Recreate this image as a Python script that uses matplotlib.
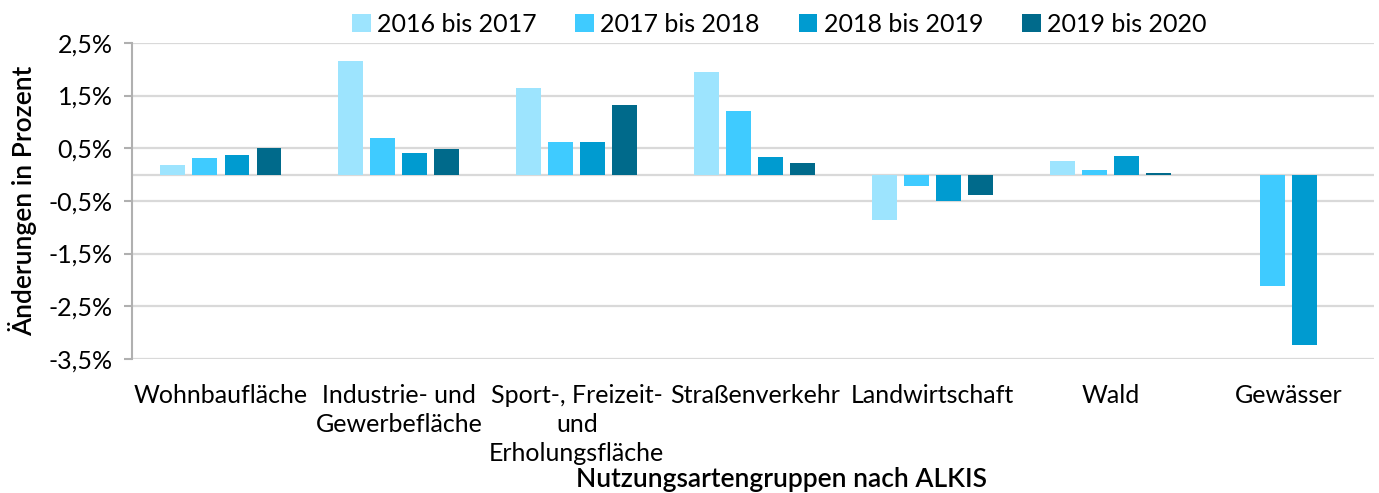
import numpy as np
import matplotlib.pyplot as plt

plt.rcParams['font.family'] = ['Lato', 'DejaVu Sans']

# Daten
kategorien = ['Wohnbaufläche', 'Industrie- und\nGewerbefläche', 'Sport-, Freizeit-\nund\nErholungsfläche',
              'Straßenverkehr', 'Landwirtschaft', 'Wald', 'Gewässer']
zeitraeume = ['2016 bis 2017', '2017 bis 2018', '2018 bis 2019', '2019 bis 2020']
w_2016_2017 = [0.19, 2.15, 1.64, 1.94, -0.87, 0.26, np.nan]
w_2017_2018 = [0.32, 0.70, 0.62, 1.20, -0.22, 0.09, -2.11]
w_2018_2019 = [0.37, 0.41, 0.62, 0.34, -0.51, 0.35, -3.24]
w_2019_2020 = [0.51, 0.48, 1.32, 0.22, -0.39, 0.03, np.nan]
yticks = [2.5, 1.5, 0.5, -0.5, -1.5, -2.5, -3.5]

farben = ['#9de4fe', '#3fcbff', '#009bd0', '#006a8b']
reihen = [w_2016_2017, w_2017_2018, w_2018_2019, w_2019_2020]

fig = plt.figure(figsize=(13.79, 4.93), dpi=100)
ax = fig.add_axes([0.0957, 0.272, 0.9007, 0.641])

x = np.arange(len(kategorien))
abstand = 0.18
breite = 0.14
for i, (werte, farbe, name) in enumerate(zip(reihen, farben, zeitraeume)):
    ax.bar(x + (i - 1.5) * abstand, werte, breite, color=farbe, label=name, zorder=3)

ax.set_xlim(-0.5, 6.48)
ax.set_ylim(-3.5, 2.5)
ax.set_yticks(yticks)
ax.set_yticklabels([f'{v:.1f}%'.replace('.', ',') for v in yticks], fontsize=18)
ax.set_xticks(x)
ax.set_xticklabels(kategorien, fontsize=18, linespacing=1.33)
ax.tick_params(axis='x', length=0, pad=18)
ax.tick_params(axis='y', length=6, color='#b0b0b0', width=1.5, pad=8)

ax.grid(axis='y', color='#d9d9d9', linewidth=1.6, zorder=0)
ax.axhline(0, color='#d9d9d9', linewidth=1.6, zorder=1)
for s in ['top', 'right', 'bottom']:
    ax.spines[s].set_visible(False)
ax.spines['left'].set_color('#b0b0b0')
ax.spines['left'].set_linewidth(1.5)

ax.set_ylabel('Änderungen in Prozent', fontsize=19, fontweight='semibold', labelpad=8)
fig.text(0.567, 0.012, 'Nutzungsartengruppen nach ALKIS', fontsize=19, fontweight='semibold', ha='center')

fig.legend(loc='upper center', bbox_to_anchor=(0.565, 1.02), ncol=4, frameon=False, fontsize=18,
           handlelength=0.75, handleheight=0.75, handletextpad=0.25, columnspacing=1.55)

fig.savefig('out.png', dpi=100)
